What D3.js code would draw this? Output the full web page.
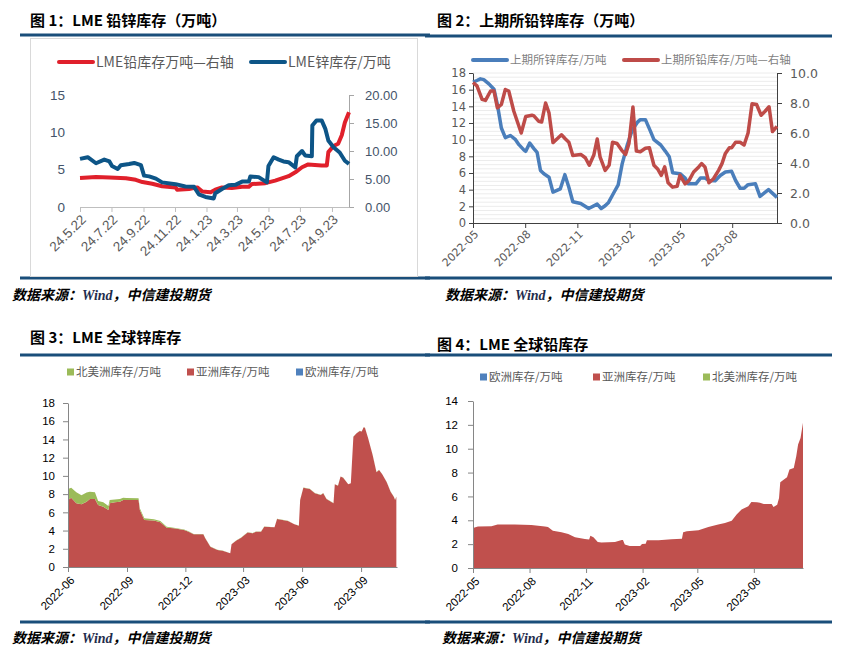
<!DOCTYPE html>
<html><head><meta charset="utf-8">
<script src="https://cdn.jsdelivr.net/npm/d3@7"></script>
<style>body{margin:0;background:#fff;} svg{display:block;}</style>
</head><body>
<svg id="c" width="855" height="655"></svg>
<script>
// ---------- DATA ----------
// Panel 1: LME lead (right axis) & zinc (left axis), 万吨
const p1TickDates = ["2022-05-24","2022-07-24","2022-09-24","2022-11-24","2023-01-24","2023-03-24","2023-05-24","2023-07-24","2023-09-24"];
const p1TickLabels = ["24.5.22","24.7.22","24.9.22","24.11.22","24.1.23","24.3.23","24.5.23","24.7.23","24.9.23"];
const p1Zinc = [["2022-05-24",6.44],["2022-06-08",6.67],["2022-06-24",5.86],["2022-07-10",6.35],["2022-07-20",6.1],["2022-07-25",5.5],["2022-08-05",5.1],["2022-08-11",5.6],["2022-08-27",5.77],["2022-09-06",5.9],["2022-09-19",5.6],["2022-09-25",4.2],["2022-10-05",4.1],["2022-10-18",3.8],["2022-10-30",3.3],["2022-11-25",3.06],["2022-12-14",2.75],["2022-12-31",2.7],["2023-01-09",1.7],["2023-01-22",1.35],["2023-02-07",1.13],["2023-02-10",1.85],["2023-02-23",2.4],["2023-03-08",2.9],["2023-03-21",2.97],["2023-04-03",3.4],["2023-04-16",3.4],["2023-04-19",4.1],["2023-05-05",4.0],["2023-05-21",3.3],["2023-05-24",5.5],["2023-06-03",6.67],["2023-06-13",6.35],["2023-06-22",6.1],["2023-07-02",6.0],["2023-07-15",5.3],["2023-07-18",6.8],["2023-07-28",7.5],["2023-08-03",6.9],["2023-08-16",6.8],["2023-08-17",10.9],["2023-08-25",11.6],["2023-09-04",11.6],["2023-09-11",10.5],["2023-09-17",8.9],["2023-09-27",8.0],["2023-10-09",7.3],["2023-10-19",6.2],["2023-10-27",5.77]];
const p1Lead = [["2022-05-24",5.2],["2022-06-24",5.35],["2022-07-20",5.25],["2022-08-21",5.15],["2022-09-09",4.85],["2022-09-22",4.45],["2022-10-11",4.15],["2022-10-30",3.7],["2022-11-25",3.5],["2022-11-28",3.1],["2022-12-21",3.2],["2023-01-06",3.5],["2023-01-16",2.75],["2023-02-01",2.65],["2023-02-10",3.1],["2023-02-23",3.5],["2023-03-14",3.4],["2023-04-03",3.6],["2023-04-16",3.6],["2023-04-22",4.1],["2023-05-18",4.26],["2023-06-06",4.7],["2023-07-02",5.5],["2023-07-15",6.2],["2023-07-28",7.1],["2023-08-09",7.6],["2023-08-22",7.5],["2023-09-04",7.4],["2023-09-14",7.4],["2023-09-17",9.8],["2023-09-27",10.9],["2023-10-06",11.3],["2023-10-13",12.8],["2023-10-19",15.1],["2023-10-27",16.9]];

// Panel 2: SHFE zinc (left) & lead (right), 万吨
const p2TickDates = ["2022-05-01","2022-08-01","2022-11-01","2023-02-01","2023-05-01","2023-08-01"];
const p2TickLabels = ["2022-05","2022-08","2022-11","2023-02","2023-05","2023-08"];
const p2Zinc = [["2022-05-01",16.9],["2022-05-08",17.1],["2022-05-14",17.3],["2022-05-20",17.2],["2022-05-29",16.7],["2022-06-07",16.05],["2022-06-13",14.2],["2022-06-20",11.4],["2022-06-27",10.25],["2022-07-06",10.5],["2022-07-15",10.0],["2022-07-21",9.4],["2022-07-30",8.75],["2022-08-02",8.6],["2022-08-09",9.6],["2022-08-16",8.96],["2022-08-22",8.47],["2022-08-28",6.3],["2022-09-03",5.9],["2022-09-12",5.5],["2022-09-19",3.7],["2022-10-02",4.1],["2022-10-10",5.8],["2022-10-17",4.3],["2022-10-24",2.55],["2022-11-07",2.35],["2022-11-21",1.74],["2022-12-06",2.27],["2022-12-13",1.74],["2022-12-20",2.07],["2022-12-26",2.47],["2023-01-04",3.6],["2023-01-12",4.58],["2023-01-19",7.1],["2023-01-28",9.36],["2023-02-06",11.2],["2023-02-15",12.1],["2023-02-20",12.4],["2023-03-01",12.4],["2023-03-10",11.0],["2023-03-16",10.0],["2023-03-28",9.36],["2023-04-05",8.63],["2023-04-12",7.95],["2023-04-18",6.04],["2023-05-01",5.92],["2023-05-10",5.39],["2023-05-16",4.7],["2023-05-29",4.7],["2023-06-06",5.39],["2023-06-14",5.39],["2023-06-21",5.1],["2023-07-02",5.07],["2023-07-11",5.7],["2023-07-20",6.12],["2023-07-31",6.2],["2023-08-07",5.1],["2023-08-15",4.17],["2023-08-22",4.17],["2023-08-29",4.6],["2023-09-11",4.7],["2023-09-19",3.2],["2023-10-04",4.0],["2023-10-19",3.08]];
const p2Lead = [["2022-05-01",9.37],["2022-05-08",9.14],["2022-05-17",8.24],["2022-05-23",8.17],["2022-06-01",8.8],["2022-06-07",8.8],["2022-06-13",7.68],["2022-06-20",7.9],["2022-06-27",8.9],["2022-07-03",8.8],["2022-07-12",7.45],["2022-07-25",6.0],["2022-08-02",7.1],["2022-08-13",7.18],["2022-08-16",7.16],["2022-08-25",6.78],["2022-08-30",6.73],["2022-09-06",8.0],["2022-09-12",7.34],["2022-09-19",5.36],["2022-09-26",5.6],["2022-10-04",5.88],["2022-10-11",5.6],["2022-10-17",5.38],["2022-10-24",4.5],["2022-11-07",4.57],["2022-11-15",4.35],["2022-11-22",3.85],["2022-11-30",4.53],["2022-12-06",5.6],["2022-12-11",4.41],["2022-12-20",3.51],["2022-12-27",3.85],["2023-01-02",5.38],["2023-01-10",5.3],["2023-01-18",4.86],["2023-01-25",4.57],["2023-01-31",5.3],["2023-02-07",7.73],["2023-02-13",4.8],["2023-02-20",4.75],["2023-03-01",4.98],["2023-03-08",5.02],["2023-03-16",3.85],["2023-03-23",3.58],["2023-03-29",3.18],["2023-04-04",3.74],["2023-04-10",2.68],["2023-04-18",2.39],["2023-04-26",2.45],["2023-05-01",3.18],["2023-05-10",2.61],["2023-05-17",2.84],["2023-05-25",3.4],["2023-06-03",3.74],["2023-06-08",3.96],["2023-06-14",3.74],["2023-06-21",2.68],["2023-06-29",2.95],["2023-07-08",3.51],["2023-07-14",3.96],["2023-07-20",4.64],["2023-07-27",5.02],["2023-07-31",5.02],["2023-08-07",5.38],["2023-08-15",5.38],["2023-08-22",5.2],["2023-08-29",6.0],["2023-09-05",7.95],["2023-09-13",7.9],["2023-09-21",7.18],["2023-09-28",7.45],["2023-10-05",7.75],["2023-10-11",6.1],["2023-10-19",6.44]];

// Panel 3: LME zinc stock by region (stacked), 万吨
const p3TickDates = ["2022-06-01","2022-09-01","2022-12-01","2023-03-01","2023-06-01","2023-09-01"];
const p3TickLabels = ["2022-06","2022-09","2022-12","2023-03","2023-06","2023-09"];
const p3Dates = ["2022-06-01","2022-06-06","2022-06-14","2022-06-22","2022-06-30","2022-07-05","2022-07-13","2022-07-18","2022-07-26","2022-08-03","2022-08-05","2022-08-13","2022-08-21","2022-08-26","2022-08-31","2022-09-19","2022-09-21","2022-09-28","2022-10-13","2022-10-23","2022-11-02","2022-11-13","2022-11-29","2022-12-06","2022-12-14","2022-12-29","2023-01-01","2023-01-09","2023-01-20","2023-01-28","2023-02-09","2023-02-11","2023-02-18","2023-02-26","2023-03-08","2023-03-16","2023-03-21","2023-03-29","2023-04-03","2023-04-19","2023-04-23","2023-05-10","2023-05-20","2023-05-27","2023-05-29","2023-06-03","2023-06-13","2023-06-21","2023-06-30","2023-07-04","2023-07-09","2023-07-20","2023-07-22","2023-07-27","2023-07-31","2023-08-04","2023-08-12","2023-08-16","2023-08-20","2023-08-25","2023-08-30","2023-09-02","2023-09-05","2023-09-07","2023-09-12","2023-09-19","2023-09-25","2023-09-29","2023-10-04","2023-10-11","2023-10-17","2023-10-22","2023-10-24","2023-10-26"];
const p3Asia = [7.35,7.6,7.0,6.88,7.17,7.46,7.46,6.8,6.62,6.26,7.0,7.1,7.17,7.35,7.35,7.35,6.26,5.16,5.09,4.9,4.32,4.24,4.06,3.88,3.59,3.59,3.15,2.23,1.87,1.79,1.5,2.49,2.89,3.22,3.8,3.7,3.88,3.88,4.43,4.35,5.27,5.05,4.68,4.54,7.35,8.7,8.56,8.09,7.9,8.09,7.46,7.0,9.07,8.93,9.92,9.8,9.07,9.18,14.3,14.67,14.93,14.86,15.33,15.29,14.12,12.3,10.4,10.65,10.17,9.3,8.27,7.72,7.35,7.72];
const p3NorthAmerica = [1.2,1.1,1.2,1.0,1.0,0.8,0.74,0.44,0.5,0.44,0.35,0.32,0.3,0.25,0.22,0.2,0.2,0.18,0.16,0.15,0.1,0.08,0.05,0.04,0.03,0.02,0.02,0.02,0.02,0.02,0.02,0.02,0.02,0.02,0.02,0.02,0.02,0.02,0.02,0.02,0.02,0.02,0.02,0.02,0.02,0.02,0.02,0.02,0.02,0.02,0.02,0.02,0.02,0.02,0.02,0.02,0.02,0.02,0.02,0.02,0.02,0.02,0.02,0.02,0.02,0.02,0.02,0.02,0.02,0.02,0.02,0.02,0.02,0.02];
const p3Europe = p3Dates.map(() => 0);

// Panel 4: LME lead stock by region (stacked), 万吨
const p4TickDates = ["2022-05-01","2022-08-01","2022-11-01","2023-02-01","2023-05-01","2023-08-01"];
const p4TickLabels = ["2022-05","2022-08","2022-11","2023-02","2023-05","2023-08"];
const p4Dates = ["2022-05-01","2022-05-09","2022-05-31","2022-06-10","2022-07-08","2022-08-04","2022-08-26","2022-08-31","2022-09-08","2022-09-22","2022-10-03","2022-10-14","2022-10-30","2022-11-06","2022-11-08","2022-11-13","2022-11-20","2022-11-26","2022-12-18","2022-12-29","2022-12-31","2023-01-03","2023-01-11","2023-01-28","2023-01-31","2023-02-06","2023-02-08","2023-02-27","2023-03-20","2023-04-06","2023-04-08","2023-04-14","2023-05-03","2023-05-19","2023-06-04","2023-06-15","2023-06-26","2023-07-04","2023-07-12","2023-07-23","2023-07-28","2023-08-06","2023-08-11","2023-08-17","2023-08-30","2023-09-02","2023-09-08","2023-09-11","2023-09-13","2023-09-19","2023-09-24","2023-09-28","2023-10-05","2023-10-09","2023-10-12","2023-10-16","2023-10-20"];
const p4Asia = [3.36,3.47,3.5,3.64,3.64,3.6,3.47,3.44,3.13,2.99,2.85,2.57,2.43,2.38,2.71,2.57,2.18,2.13,2.18,2.35,2.35,1.96,1.85,1.85,2.01,2.04,2.32,2.32,2.41,2.46,2.99,3.08,3.16,3.44,3.64,3.78,3.97,4.48,4.9,5.17,5.54,5.51,5.48,5.37,5.37,5.12,5.31,5.87,7.19,7.41,7.61,8.25,8.39,9.37,10.35,10.9,12.17];
const p4Europe = p4Dates.map(() => 0);
const p4NorthAmerica = p4Dates.map(() => 0);

// ---------- DRAWING ----------
const svg = d3.select("#c");
const P = d3.timeParse("%Y-%m-%d");
const CJK = "'Noto Sans CJK SC', sans-serif";
const LAT = "'Liberation Sans', Arial, sans-serif";
const DJV = "'DejaVu Sans', sans-serif";
const RULE = "#1A4E7A";

function frame(o) {
  svg.append("text").attr("x", o.tx).attr("y", o.ty).attr("font-family", CJK)
    .attr("font-weight", 700).attr("font-size", 15).attr("fill", "#000").text(o.title);
  svg.append("line").attr("x1", o.x0).attr("x2", o.x1).attr("y1", o.rt).attr("y2", o.rt)
    .attr("stroke", RULE).attr("stroke-width", 3);
  svg.append("line").attr("x1", o.x0).attr("x2", o.x1).attr("y1", o.rb).attr("y2", o.rb)
    .attr("stroke", RULE).attr("stroke-width", 3);
  const s = svg.append("text").attr("x", o.sx).attr("y", o.sy).attr("font-size", 14)
    .attr("font-weight", 700).attr("font-style", "italic").attr("fill", "#000");
  s.append("tspan").attr("font-family", CJK).text("数据来源：");
  s.append("tspan").attr("font-family", "'Liberation Serif', serif").attr("fill", "#1f2d4d").text("Wind");
  s.append("tspan").attr("font-family", CJK).text("，中信建投期货");
}

function xAxis(x, y, ticks, labels, opt) {
  const g = svg.append("g").attr("transform", `translate(0,${y})`)
    .call(d3.axisBottom(x).tickValues(ticks.map(P)).tickFormat((d, i) => labels[i]).tickSize(5).tickSizeOuter(0));
  g.select(".domain").attr("stroke", opt.axis);
  g.selectAll(".tick line").attr("stroke", opt.axis);
  g.selectAll(".tick text").attr("font-family", opt.font).attr("font-size", opt.fs).attr("fill", opt.color)
    .attr("text-anchor", "end").attr("y", 0).attr("dy", "0.35em")
    .attr("transform", `translate(${opt.dx},${opt.dy}) rotate(-45)`);
  return g;
}

function legendLine(x, y, color, label, fs, tcolor) {
  svg.append("line").attr("x1", x).attr("x2", x + 34).attr("y1", y).attr("y2", y)
    .attr("stroke", color).attr("stroke-width", 4).attr("stroke-linecap", "round");
  svg.append("text").attr("x", x + 37).attr("y", y).attr("dy", "0.36em").attr("font-family", CJK)
    .attr("font-size", fs).attr("fill", tcolor).text(label);
}
function legendSq(x, y, color, label) {
  svg.append("rect").attr("x", x).attr("y", y - 3.5).attr("width", 7).attr("height", 7).attr("fill", color);
  svg.append("text").attr("x", x + 9).attr("y", y).attr("dy", "0.36em").attr("font-family", CJK)
    .attr("font-size", 11.5).attr("fill", "#595959").text(label);
}

// ===== Panel 1 =====
frame({tx: 30, ty: 26, title: "图 1：LME 铅锌库存（万吨）", x0: 20, x1: 430, rt: 35, rb: 278, sx: 12, sy: 300});
svg.append("rect").attr("x", 30.5).attr("y", 38.5).attr("width", 387).attr("height", 238)
  .attr("fill", "none").attr("stroke", "#d9d9d9");
{
  const x = d3.scaleTime().domain([P("2022-05-24"), P("2023-10-27")]).range([80, 349]);
  const yL = d3.scaleLinear().domain([0, 15]).range([207, 95]);
  const yR = d3.scaleLinear().domain([0, 20]).range([207, 95]);
  const gl = svg.append("g").attr("transform", "translate(80,0)")
    .call(d3.axisLeft(yL).tickValues([0, 5, 10, 15]).tickSize(0).tickPadding(15));
  gl.select(".domain").remove();
  gl.selectAll("text").attr("font-family", LAT).attr("font-size", 13.5).attr("fill", "#44546a");
  const gr = svg.append("g").attr("transform", "translate(349,0)")
    .call(d3.axisRight(yR).tickValues([0, 5, 10, 15, 20]).tickFormat(d3.format(".2f")).tickSize(5).tickPadding(11).tickSizeOuter(0));
  gr.select(".domain").attr("stroke", "#a6a6a6");
  gr.selectAll("line").attr("stroke", "#a6a6a6");
  gr.selectAll("text").attr("font-family", LAT).attr("font-size", 13).attr("fill", "#44546a");
  xAxis(x, 207, p1TickDates, p1TickLabels, {axis: "#bfbfbf", font: LAT, fs: 13.5, color: "#595959", dx: 3, dy: 10});
  const lead = d3.line().x(d => x(P(d[0]))).y(d => yR(d[1]));
  const zinc = d3.line().x(d => x(P(d[0]))).y(d => yL(d[1]));
  svg.append("path").attr("d", lead(p1Lead)).attr("fill", "none").attr("stroke", "#e0202b").attr("stroke-width", 4).attr("stroke-linejoin", "round");
  svg.append("path").attr("d", zinc(p1Zinc)).attr("fill", "none").attr("stroke", "#0d5587").attr("stroke-width", 4).attr("stroke-linejoin", "round");
  legendLine(59, 62, "#e0202b", "LME铅库存万吨—右轴", 14, "#595959");
  legendLine(251, 62, "#0d5587", "LME锌库存/万吨", 14, "#595959");
}

// ===== Panel 2 =====
frame({tx: 437, ty: 26, title: "图 2：上期所铅锌库存（万吨）", x0: 425, x1: 832, rt: 36, rb: 278, sx: 445, sy: 300});
{
  const x = d3.scaleTime().domain([P("2022-05-01"), P("2023-10-19")]).range([473, 777]);
  const yL = d3.scaleLinear().domain([0, 18]).range([223, 73]);
  const yR = d3.scaleLinear().domain([0, 10]).range([223, 73]);
  svg.append("g").selectAll("line").data(d3.range(0.5, 18.01, 0.5)).join("line")
    .attr("x1", 473).attr("x2", 777).attr("y1", d => yL(d)).attr("y2", d => yL(d))
    .attr("stroke", "#ececec").attr("stroke-width", 1);
  const gl = svg.append("g").attr("transform", "translate(473,0)")
    .call(d3.axisLeft(yL).tickValues(d3.range(0, 19, 2)).tickSize(4).tickPadding(3).tickSizeOuter(0));
  gl.select(".domain").attr("stroke", "#404040");
  gl.selectAll("line").attr("stroke", "#404040");
  gl.selectAll("text").attr("font-family", DJV).attr("font-size", 11.5).attr("fill", "#595959");
  const gr = svg.append("g").attr("transform", "translate(777,0)")
    .call(d3.axisRight(yR).tickValues(d3.range(0, 11, 2)).tickFormat(d3.format(".1f")).tickSize(5).tickPadding(8).tickSizeOuter(0));
  gr.select(".domain").attr("stroke", "#404040");
  gr.selectAll("line").attr("stroke", "#404040");
  gr.selectAll("text").attr("font-family", DJV).attr("font-size", 12.5).attr("fill", "#595959");
  xAxis(x, 223, p2TickDates, p2TickLabels, {axis: "#404040", font: DJV, fs: 11, color: "#595959", dx: 3, dy: 9});
  const zinc = d3.line().x(d => x(P(d[0]))).y(d => yL(d[1]));
  const lead = d3.line().x(d => x(P(d[0]))).y(d => yR(d[1]));
  svg.append("path").attr("d", zinc(p2Zinc)).attr("fill", "none").attr("stroke", "#4a7ebb").attr("stroke-width", 3.5).attr("stroke-linejoin", "round");
  svg.append("path").attr("d", lead(p2Lead)).attr("fill", "none").attr("stroke", "#be4b48").attr("stroke-width", 3.5).attr("stroke-linejoin", "round");
  legendLine(473, 60, "#4a7ebb", "上期所锌库存/万吨", 11.5, "#7f7f7f");
  legendLine(624, 60, "#be4b48", "上期所铅库存/万吨—右轴", 11.5, "#7f7f7f");
}

// ===== stacked area helper =====
function stackPanel(o) {
  const rows = o.dates.map((d, i) => {
    const r = {date: P(d)};
    o.keys.forEach(k => r[k] = o.series[k][i]);
    return r;
  });
  const x = d3.scaleTime().domain(o.domain.map(P)).range(o.xr);
  const y = d3.scaleLinear().domain([0, o.ymax]).range(o.yr);
  const stack = d3.stack().keys(o.keys)(rows);
  const area = d3.area().x(d => x(d.data.date)).y0(d => y(d[0])).y1(d => y(d[1]));
  svg.append("g").selectAll("path").data(stack).join("path")
    .attr("d", area).attr("fill", d => o.colors[d.key]);
  const gl = svg.append("g").attr("transform", `translate(${o.xr[0]},0)`)
    .call(d3.axisLeft(y).tickValues(d3.range(0, o.ymax + 1, 2)).tickSize(5).tickPadding(o.pad).tickSizeOuter(0));
  gl.select(".domain").attr("stroke", "#868686");
  gl.selectAll("line").attr("stroke", "#868686");
  gl.selectAll("text").attr("font-family", LAT).attr("font-size", 11.5).attr("fill", "#000");
  xAxis(x, o.yr[0], o.tickDates, o.tickLabels, {axis: "#868686", font: LAT, fs: 11.5, color: "#000", dx: 4, dy: 11});
}
const COL = {eu: "#4f81bd", asia: "#c0504d", na: "#9bbb59"};

// ===== Panel 3 =====
frame({tx: 30, ty: 343, title: "图 3：LME 全球锌库存", x0: 20, x1: 430, rt: 355, rb: 622, sx: 12, sy: 643});
legendSq(67, 372, COL.na, "北美洲库存/万吨");
legendSq(187, 372, COL.asia, "亚洲库存/万吨");
legendSq(296, 372, COL.eu, "欧洲库存/万吨");
stackPanel({dates: p3Dates, keys: ["eu", "asia", "na"], series: {eu: p3Europe, asia: p3Asia, na: p3NorthAmerica},
  colors: COL, domain: ["2022-06-01", "2023-10-27"], xr: [68, 397], ymax: 18, yr: [567, 403], pad: 8,
  tickDates: p3TickDates, tickLabels: p3TickLabels});

// ===== Panel 4 =====
frame({tx: 437, ty: 350, title: "图 4：LME 全球铅库存", x0: 425, x1: 832, rt: 355, rb: 622, sx: 442, sy: 643});
legendSq(480, 377, COL.eu, "欧洲库存/万吨");
legendSq(593, 377, COL.asia, "亚洲库存/万吨");
legendSq(703, 377, COL.na, "北美洲库存/万吨");
stackPanel({dates: p4Dates, keys: ["eu", "asia", "na"], series: {eu: p4Europe, asia: p4Asia, na: p4NorthAmerica},
  colors: COL, domain: ["2022-05-01", "2023-10-20"], xr: [473, 803], ymax: 14, yr: [568, 401], pad: 10,
  tickDates: p4TickDates, tickLabels: p4TickLabels});
</script>
</body></html>
